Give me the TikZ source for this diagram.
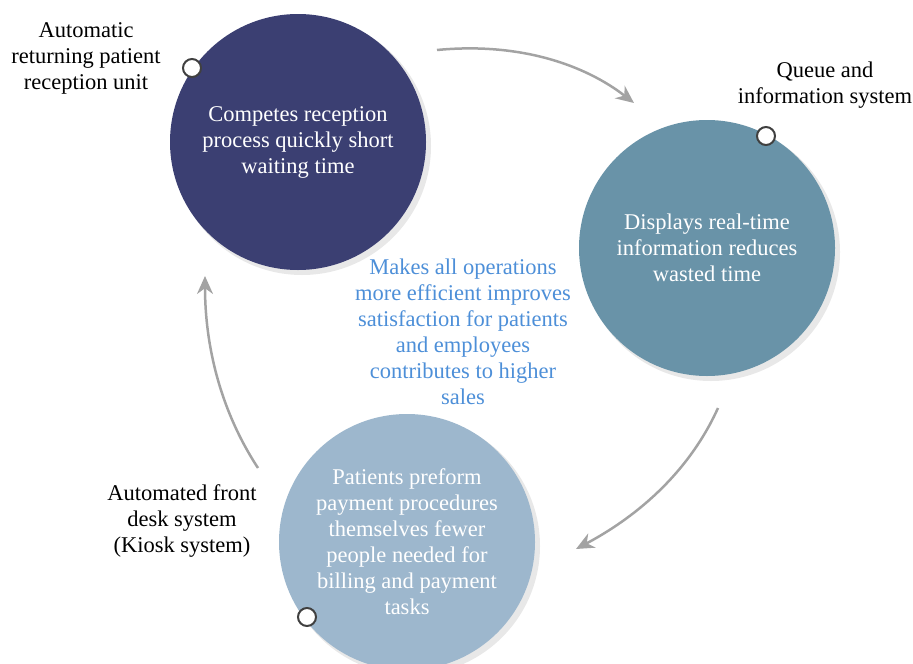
\documentclass[tikz,border=0pt]{standalone}
\usepackage{fontspec}
\setmainfont{Liberation Serif}
\usetikzlibrary{arrows.meta}
\definecolor{navyc}{HTML}{3B3F72}
\definecolor{steelc}{HTML}{6993A8}
\definecolor{palec}{HTML}{9DB7CD}
\definecolor{bluetxt}{HTML}{4D8FD8}
\definecolor{arrowc}{HTML}{A3A3A3}
\begin{document}
\begin{tikzpicture}[x=1pt,y=-1pt,
    disc/.style={circle, minimum size=256pt, inner sep=0pt, text=white, align=center,
        font=\fontsize{22.5}{26}\selectfont},
    lbl/.style={align=center, font=\fontsize{22.5}{26}\selectfont},
    dot/.style={circle, draw=gray!50!black, fill=white, line width=2pt, minimum size=18pt, inner sep=0pt},
    flow/.style={draw=arrowc, line width=2.5pt, -{Stealth[length=18pt,width=16pt]}}]
    \useasboundingbox (0,0) rectangle (913,664);
    % shadows
    \fill[gray!18] (302,146) circle (129);
    \fill[gray!18] (711,252) circle (129);
    \fill[gray!18] (411,546) circle (129);
    % circles
    \node[disc, fill=navyc] (recep) at (298,142) {Competes reception\\process quickly short\\waiting time};
    \node[disc, fill=steelc] (queue) at (707,248) {Displays real-time\\information reduces\\wasted time};
    \node[disc, fill=palec] (kiosk) at (407,542) {Patients preform\\payment procedures\\themselves fewer\\people needed for\\billing and payment\\tasks};
    \node[dot] (drecep) at (192,68) {};
    \node[dot] (dqueue) at (766,136) {};
    \node[dot] (dkiosk) at (307,617) {};
    % labels
    \node[lbl] (lrecep) at (86,58) {Automatic\\returning patient\\reception unit};
    \node[lbl] (lqueue) at (825,85) {Queue and\\information system};
    \node[lbl] (lkiosk) at (182,521) {Automated front\\desk system\\(Kiosk system)};
    \node[lbl, text=bluetxt] (center) at (463,332) {Makes all operations\\more efficient improves\\satisfaction for patients\\and employees\\contributes to higher\\sales};
    % arrows
    \coordinate (a1s) at (437,50);
    \coordinate (a1e) at (634,103);
    \coordinate (a2s) at (718,408);
    \coordinate (a2e) at (576,549);
    \coordinate (a3s) at (258,468);
    \coordinate (a3e) at (205,276);
    \draw[flow] (a1s) .. controls (520,42) and (585,65) .. (a1e);
    \draw[flow] (a2s) .. controls (690,470) and (640,515) .. (a2e);
    \draw[flow] (a3s) .. controls (220,410) and (205,345) .. (a3e);
\end{tikzpicture}
\end{document}
